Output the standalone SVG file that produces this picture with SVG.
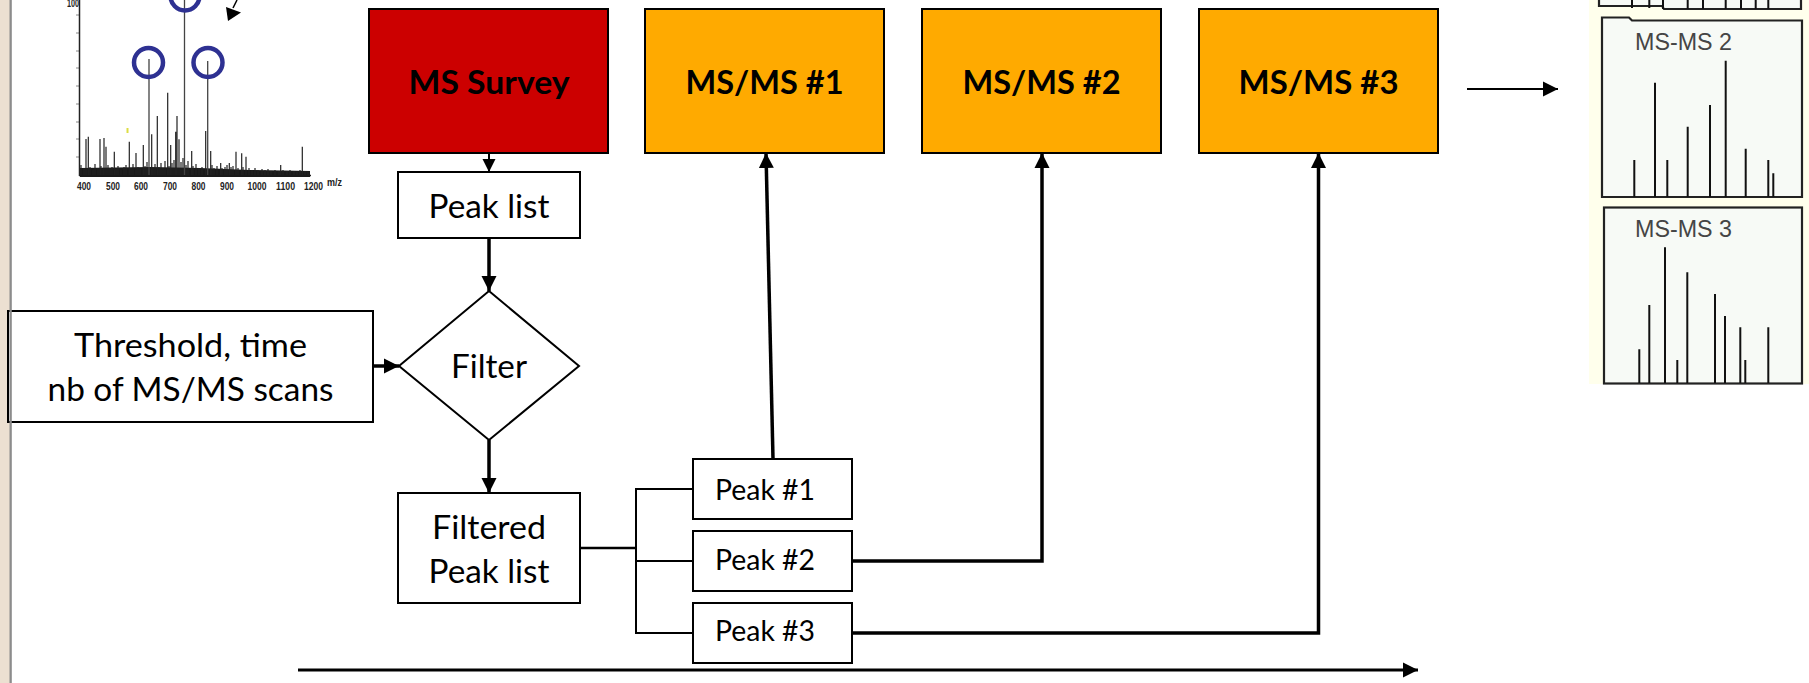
<svg xmlns="http://www.w3.org/2000/svg" width="1809" height="683" viewBox="0 0 1809 683">
<style>
.box{stroke:#000;stroke-width:2}
.t{font-family:Lato,"Liberation Sans",sans-serif;fill:#000;text-anchor:middle}
.big{font-size:33px}
.bold{font-size:33px;font-weight:bold}
.pk{font-size:29px}
.ax{font-family:"Liberation Sans",sans-serif;font-size:11.5px;font-weight:bold;fill:#222;text-anchor:middle}
.ms{font-family:"Liberation Sans",sans-serif;font-size:23px;fill:#454545}
.spk{stroke:#111;stroke-width:2;fill:none}
.con{stroke:#000;fill:none}
</style>
<defs>
<marker id="ah" markerUnits="userSpaceOnUse" markerWidth="16" markerHeight="16" refX="15" refY="8" orient="auto">
<path d="M0,0.5 L15,8 L0,15.5 z" fill="#000"/>
</marker>
<marker id="ahs" markerUnits="userSpaceOnUse" markerWidth="14" markerHeight="14" refX="13" refY="7" orient="auto">
<path d="M0,0.5 L13,7 L0,13.5 z" fill="#000"/>
</marker>
</defs>
<rect width="1809" height="683" fill="#fff"/>
<!-- left strip -->
<rect x="0" y="0" width="10" height="683" fill="#ECE0D1"/>

<!-- survey spectrum -->
<g id="survey-spectrum">
<g stroke="#888" stroke-width="1">
<path d="M76,15H79M76,33H79M76,51H79M76,68H79M76,86H79M76,104H79M76,122H79M76,139H79M76,157H79"/>
</g>
<path d="M79.5,0V176M79,175.5H311" stroke="#222" stroke-width="1.5" fill="none"/>
<path d="M80,177 L80,168 L150,167 L200,168 L250,170 L310,171 L310,177 z" fill="#1a1a1a"/>
<g stroke="#222" stroke-width="1.2" fill="none">
<path d="M86,175V139M88.3,175V136.7M100,175V139M104,175V138M106,175V146.7M114.3,175V151.7M129.3,175V141.7M136,175V153M143.3,175V145M151.7,175V134.3M157.3,175V116M167.7,175V92.7M170.7,175V145M175.7,175V131.7M177,175V116M179,175V139.3M191.7,175V151M205.7,175V131M210.7,175V151M236,175V151.7M241.7,175V153.3M246,175V156.7M302.3,175V146.7M229.3,175V163M220.7,175V163M280.7,175V165"/>
<path d="M81,175V165M84,175V168M90,175V167M93,175V170M95,175V164M98,175V168M101,175V166M103,175V169M108,175V165M110,175V168M112,175V167M116,175V169M118,175V166M121,175V170M124,175V167M126,175V165M131,175V168M133,175V164M138,175V167M140,175V169M145,175V166M147,175V162M153,175V168M155,175V164M159,175V167M161,175V163M163,175V168M165,175V161M169,175V166M172,175V163M174,175V160M181,175V162M183,175V158M186,175V165M188,175V161M193,175V166M196,175V164M199,175V168M202,175V167M212,175V165M214,175V168M217,175V166M222,175V168M225,175V167M227,175V165M231,175V167M233,175V166M238,175V168M243,175V167M249,175V168M252,175V170M255,175V168M258,175V170M262,175V169M265,175V170M268,175V169M271,175V171M275,175V170M279,175V171M283,175V170M287,175V171M290,175V170M294,175V171M297,175V172M300,175V170M305,175V171M308,175V172"/>
</g>
<path d="M149,175V59M184.5,175V0M207.7,175V61" stroke="#444" stroke-width="1.3"/>
<line x1="127.5" y1="128" x2="127.5" y2="133" stroke="#dd4" stroke-width="2"/>
<g fill="none" stroke="#2E3192" stroke-width="4.5">
<circle cx="148.5" cy="62.5" r="14.5"/>
<circle cx="208" cy="62.5" r="14.5"/>
<circle cx="185" cy="-4" r="14.5"/>
</g>
<text class="ax" x="73" y="7" textLength="12" lengthAdjust="spacingAndGlyphs">100</text>
<text class="ax" x="84" y="190" textLength="14" lengthAdjust="spacingAndGlyphs">400</text>
<text class="ax" x="113" y="190" textLength="14" lengthAdjust="spacingAndGlyphs">500</text>
<text class="ax" x="141" y="190" textLength="14" lengthAdjust="spacingAndGlyphs">600</text>
<text class="ax" x="170" y="190" textLength="14" lengthAdjust="spacingAndGlyphs">700</text>
<text class="ax" x="198.5" y="190" textLength="14" lengthAdjust="spacingAndGlyphs">800</text>
<text class="ax" x="227" y="190" textLength="14" lengthAdjust="spacingAndGlyphs">900</text>
<text class="ax" x="257" y="190" textLength="19" lengthAdjust="spacingAndGlyphs">1000</text>
<text class="ax" x="285.5" y="190" textLength="19" lengthAdjust="spacingAndGlyphs">1100</text>
<text class="ax" x="313.5" y="190" textLength="19" lengthAdjust="spacingAndGlyphs">1200</text>
<text class="ax" x="334.5" y="186" textLength="15" lengthAdjust="spacingAndGlyphs">m/z</text>
<path d="M237,0 L233,8" stroke="#000" stroke-width="1.5"/>
<path d="M228,21 L226,7 L241,12.5 z" fill="#000"/>
</g>

<!-- MS/MS spectra panel -->
<g id="msms-spectra">
<rect x="1589" y="0" width="220" height="384" fill="#FFFFEC"/>
<path d="M1599,0 V6 H1662 L1664,9 H1801 V0" fill="#F7FAF6" stroke="#222" stroke-width="2.2"/>
<path class="spk" d="M1632,8V0M1649.3,8V0M1663,9V0M1687.7,9V0M1703,9V0M1725.7,9V0M1741,9V0M1755.7,9V0M1768.3,9V0"/>
<path d="M1602,197 V17.5 H1629 L1632,20.5 H1802 V197 Z" fill="#F7FAF6" stroke="#222" stroke-width="2.2"/>
<text class="ms" x="1635" y="50" textLength="97" lengthAdjust="spacingAndGlyphs">MS-MS 2</text>
<path class="spk" d="M1634.3,197V160M1655,197V82.7M1667.3,197V160M1687.7,197V126.7M1710,197V105M1725.7,197V60.7M1745.7,197V148.7M1768.3,197V160M1773.3,197V173.3"/>
<rect x="1604" y="207.5" width="198" height="176" fill="#F7FAF6" stroke="#222" stroke-width="2.2"/>
<text class="ms" x="1635" y="237" textLength="97" lengthAdjust="spacingAndGlyphs">MS-MS 3</text>
<path class="spk" d="M1639.3,383V349.3M1649.3,383V305M1665,383V247.3M1677.3,383V360M1687.3,383V272.3M1715,383V294M1725,383V316M1740.3,383V327.3M1745.3,383V360M1768.3,383V327.3"/>
</g>

<!-- nodes -->
<g id="ms-survey">
<rect class="box" x="369" y="9" width="239" height="144" fill="#CC0000"/>
<text class="t bold" x="489" y="94" textLength="161" lengthAdjust="spacingAndGlyphs">MS Survey</text>
</g>
<g id="msms1">
<rect class="box" x="645" y="9" width="239" height="144" fill="#FFAA00"/>
<text class="t bold" x="764.5" y="94" textLength="158" lengthAdjust="spacingAndGlyphs">MS/MS #1</text>
</g>
<g id="msms2">
<rect class="box" x="922" y="9" width="239" height="144" fill="#FFAA00"/>
<text class="t bold" x="1041.5" y="94" textLength="158" lengthAdjust="spacingAndGlyphs">MS/MS #2</text>
</g>
<g id="msms3">
<rect class="box" x="1199" y="9" width="239" height="144" fill="#FFAA00"/>
<text class="t bold" x="1318.5" y="94" textLength="160" lengthAdjust="spacingAndGlyphs">MS/MS #3</text>
</g>
<g id="peak-list">
<rect class="box" x="398" y="172" width="182" height="66" fill="#fff"/>
<text class="t big" x="489" y="218" textLength="121" lengthAdjust="spacingAndGlyphs">Peak list</text>
</g>
<g id="threshold">
<rect class="box" x="8" y="311" width="365" height="111" fill="#fff"/>
<text class="t big" x="190.5" y="357" textLength="233" lengthAdjust="spacingAndGlyphs">Threshold, time</text>
<text class="t big" x="190.5" y="401" textLength="286" lengthAdjust="spacingAndGlyphs">nb of MS/MS scans</text>
</g>
<rect x="9.5" y="0" width="2.3" height="683" fill="#8C8C8C"/>
<g id="filter">
<path class="box" d="M489,291 L579,366 L489,440 L399,366 Z" fill="#fff"/>
<text class="t big" x="489" y="378" textLength="76" lengthAdjust="spacingAndGlyphs">Filter</text>
</g>
<g id="filtered-peak-list">
<rect class="box" x="398" y="493" width="182" height="110" fill="#fff"/>
<text class="t big" x="489" y="539" textLength="114" lengthAdjust="spacingAndGlyphs">Filtered</text>
<text class="t big" x="489" y="583" textLength="121" lengthAdjust="spacingAndGlyphs">Peak list</text>
</g>
<g id="peak1">
<rect class="box" x="693" y="459" width="159" height="60" fill="#fff"/>
<text class="t pk" x="765" y="500" textLength="100" lengthAdjust="spacingAndGlyphs">Peak #1</text>
</g>
<g id="peak2">
<rect class="box" x="693" y="531" width="159" height="60" fill="#fff"/>
<text class="t pk" x="765" y="570" textLength="100" lengthAdjust="spacingAndGlyphs">Peak #2</text>
</g>
<g id="peak3">
<rect class="box" x="693" y="603" width="159" height="60" fill="#fff"/>
<text class="t pk" x="765" y="641" textLength="100" lengthAdjust="spacingAndGlyphs">Peak #3</text>
</g>

<!-- connectors -->
<g id="connectors">
<line class="con" x1="489" y1="153" x2="489" y2="172" stroke-width="2" marker-end="url(#ahs)"/>
<line class="con" x1="489" y1="238" x2="489" y2="291" stroke-width="3.5" marker-end="url(#ah)"/>
<line class="con" x1="373" y1="366" x2="399" y2="366" stroke-width="3.5" marker-end="url(#ah)"/>
<line class="con" x1="489" y1="440" x2="489" y2="493" stroke-width="3.5" marker-end="url(#ah)"/>
<path class="con" d="M580,548 H636" stroke-width="2.5"/>
<path class="con" d="M693,489 H636 V633 H693 M636,561 H693" stroke-width="2"/>
<line class="con" x1="773" y1="459" x2="766" y2="153" stroke-width="3.5" marker-end="url(#ah)"/>
<path class="con" d="M852,561 H1042 V153" stroke-width="3.5" marker-end="url(#ah)"/>
<path class="con" d="M852,633 H1318.5 V153" stroke-width="3.5" marker-end="url(#ah)"/>
<line class="con" x1="298" y1="670" x2="1418" y2="670" stroke-width="3" marker-end="url(#ah)"/>
<line class="con" x1="1467" y1="89" x2="1558" y2="89" stroke-width="2" marker-end="url(#ah)"/>
</g>
</svg>
